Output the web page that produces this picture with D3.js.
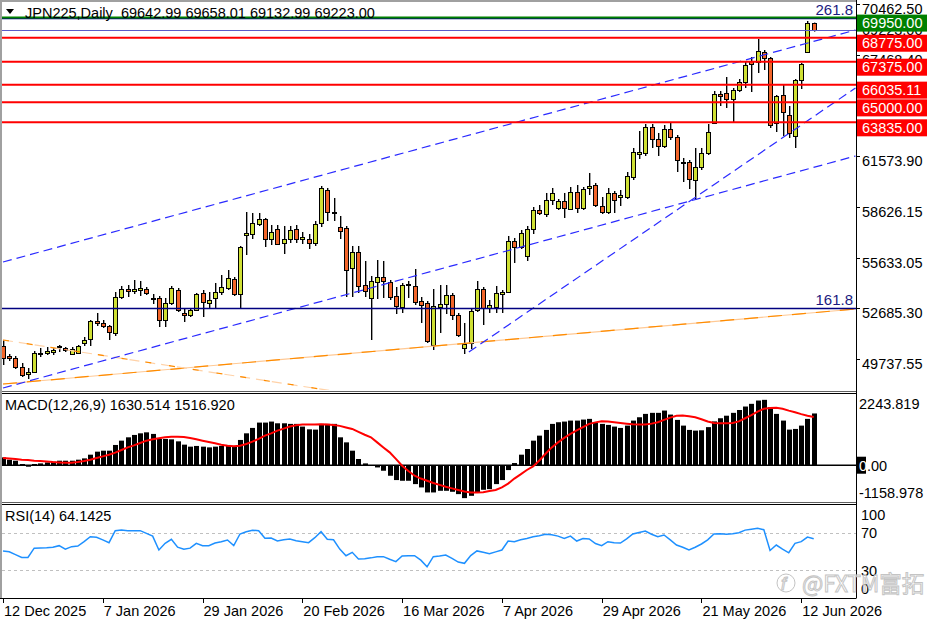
<!DOCTYPE html>
<html>
<head>
<meta charset="utf-8">
<script src="https://cdn.jsdelivr.net/npm/d3@7"></script>
<style>
body{margin:0;background:#fff}
svg{display:block;font-family:"Liberation Sans",Arial,sans-serif}
text{white-space:pre}
</style>
</head>
<body>
<div id="chart"></div>
<script>
// JPN225 daily candles, bar 0 = 12 Dec 2025
const open=[50772,50188,50071,49545,49136,49253,50334,50363,50421,50772,
50655,50304,50363,50947,51180,52232,52115,51940,51531,53633,
54100,53984,54042,54100,53575,53575,52290,53283,54042,52699,
52553,52874,53867,53283,53575,53925,54159,54684,53808,57254,
57312,57896,58188,57020,57604,56787,57020,57604,57020,57020,
56787,57955,59882,58597,57721,57663,55327,56261,54334,53575,
54509,54801,54509,53692,53049,54392,54276,53400,53283,50830,
53049,53224,53750,52582,50655,50947,52874,54100,52991,53049,
53808,53925,56904,56553,56028,57604,58714,58480,59298,58831,
59240,58772,59765,58831,59999,60174,58948,58597,59707,59473,
59473,60641,61984,62043,63561,62860,62452,63444,62977,61546,
61517,60466,61225,62043,63795,65488,65547,65196,65722,66189,
67416,67357,67941,67591,63795,65430,64262,63036,66306,67941,
69642.99];
const high=[51122,50304,50188,49779,49487,50480,50655,50713,50655,50830,
50713,50713,50830,51297,52290,52699,52290,51998,53925,54276,
54334,54626,54568,54217,53808,53692,53575,54276,54159,52932,
52991,53867,54042,53925,54451,54918,55210,54801,56612,58597,
58539,58539,58247,57838,57838,57780,57780,57838,57429,57312,
58072,60116,59999,59415,58364,57780,56612,56612,55736,54860,
55794,55736,54626,54217,54451,54568,55268,53633,53400,54100,
54334,54334,53867,52699,52115,52991,54568,54217,53458,54276,
54042,57196,57079,57546,57780,58889,59006,59707,59999,59356,
59707,60057,60174,60057,60875,60291,59473,59999,59824,59882,
60933,62335,63328,63736,63736,63211,63678,63795,63094,61751,
61634,62335,62335,63736,65664,65664,66481,65839,66364,67357,
67649,68700,68058,67649,65430,66072,64788,66364,67299,69752,
69658.01];
const low=[49662,49896,49428,48961,48844,49195,50129,50246,50246,50421,
50421,50246,50304,50772,50772,51940,51823,51122,51356,53516,
53633,53808,53692,53750,53224,51881,51881,53166,52757,52173,
52465,52816,52465,52991,52991,53750,54042,53692,52991,56086,
57020,57780,56553,56670,56670,56144,56787,56787,56728,56436,
56612,57721,58072,58072,57020,53633,53633,53867,53633,51122,
53516,53575,53458,52640,52699,53575,53166,52115,50947,50538,
51531,52640,52290,51297,50304,50596,52757,51998,52699,52699,
52699,53867,55619,56436,55736,57312,58422,58305,59006,58714,
58247,58714,58539,58714,59590,58889,58480,58480,58539,58948,
59356,60466,61692,61868,62335,61868,62335,62802,60933,60349,
59940,59298,61050,61926,63736,64788,64671,63853,65605,65839,
65605,66715,66890,63503,63269,63036,62919,62335,65780,67883,
69132.99];
const close=[50071,50071,49545,49078,49253,50363,50363,50480,50538,50742,
50538,50596,50772,51122,52232,52115,51940,51589,53633,54100,
53984,54100,54159,53867,53546,52290,53283,54159,52874,52553,
52874,53808,53341,53458,53925,54217,54743,53808,56553,57371,
57955,58188,57020,57429,56728,57020,57546,57020,57137,56787,
57896,59999,58597,58568,57488,55210,56261,54276,53984,54568,
54801,54568,53633,53108,54334,54363,53341,53166,51064,53108,
53224,53750,52582,51414,50888,52816,54100,52991,53166,53867,
53925,56904,56553,57371,57604,58714,58539,59298,59707,59240,
58831,59765,58831,59940,60116,59006,58597,59707,59298,59590,
60700,62101,62101,63561,62860,62452,63444,62977,61634,61459,
60524,61225,62043,63269,65488,65372,65196,65722,66189,67182,
67240,68000,67591,63678,65372,64437,63211,66306,67240,69635,
69223.00];

// MACD(12,26,9): main (histogram) and signal
const macdHist=[246,174,142,38,-47,38,57,88,110,142,
142,142,174,215,332,427,458,458,638,774,
879,954,1005,1036,986,828,828,815,752,648,
585,607,585,562,585,607,638,594,796,1005,
1175,1343,1343,1375,1321,1321,1302,1302,1217,1131,
1122,1302,1302,1302,879,720,458,196,57,-16,
-70,-174,-332,-468,-490,-490,-595,-700,-858,-858,
-806,-806,-837,-911,-1037,-964,-858,-774,-753,-595,
-468,-153,69,332,511,774,932,1112,1302,1354,
1375,1406,1406,1438,1460,1333,1302,1270,1217,1175,
1248,1406,1511,1617,1650,1650,1722,1596,1428,1248,
1112,1090,1100,1200,1380,1480,1560,1650,1740,1849,
1934,2038,2060,1827,1617,1406,1122,1143,1248,1460,
1630.514];
const macdSignal=[228,215,196,174,164,142,133,120,101,88,
79,79,101,133,174,228,278,332,395,480,
562,626,701,774,815,847,879,900,900,890,
860,815,774,733,690,648,616,594,616,670,
743,828,932,1005,1090,1153,1217,1258,1280,1280,
1285,1290,1285,1270,1240,1190,1143,1050,960,879,
720,560,405,200,-16,-180,-332,-420,-490,-560,
-620,-680,-730,-780,-830,-858,-860,-850,-815,-780,
-700,-580,-420,-290,-150,-40,150,360,562,720,
860,985,1100,1200,1302,1350,1384,1375,1355,1333,
1310,1290,1280,1280,1310,1354,1430,1500,1560,1564,
1540,1511,1450,1380,1333,1320,1320,1333,1380,1480,
1580,1690,1776,1800,1807,1780,1720,1670,1610,1560,
1516.920];

// RSI(14)
const rsi=[51,50,47,44,44,54,54.2,54.5,55,56.7,
53,55.6,56.3,61,66.4,65.7,63,59.9,72.9,73.6,
72.9,72.9,72.9,70,67,52,59.2,63.6,55,52.8,
54,59.2,56.7,56.7,59.5,61,62.8,56.7,69.3,71.8,
73.4,72.9,64.6,65,61.7,63,63.9,62,61,59.9,
65.3,71.8,63.6,63,53,45.8,49.5,42.3,42.5,43.5,
44.8,44.8,42,39.4,45.5,45.8,45.8,41,33.8,44.8,
45.5,46.6,43,39,37.6,46,51,49.5,48,50,
52,61.7,61,63,64.5,66.4,67.5,69,68.5,67,
64.6,67,61.7,64.5,64,59,56.7,61,59.8,59.5,
64,69.3,71,72.5,69,66.4,68.2,63,57.4,55,
52,55,58.5,63,69.3,69.5,69,69.5,70.7,73.5,
74.5,75.5,74,51.5,57.4,53,49,59.2,61,66,
64.1425];

const dateTicks=[0,16,32,48,64,80,96,112,128];
const dateLabels=["12 Dec 2025","7 Jan 2026","29 Jan 2026","20 Feb 2026","16 Mar 2026","7 Apr 2026","29 Apr 2026","21 May 2026","12 Jun 2026"];
const priceTicks=[70462.50,67468.40,64521.65,61573.90,58626.15,55633.05,52685.30,49737.55];
const levelPrices=[69950,68775,67375,66035.11,65000,63835];
const levelColors=["#008000","#ff0000","#ff0000","#ff0000","#ff0000","#ff0000"];
const fibPrices=[52962,69950];
const fibLabels=["161.8","261.8"];
const bidPrice=69223.00;

// trend lines: [barIndex, price] pairs
const channelUpper=[[0,55677],[136.7,69226]];
const channelLower=[[0,48319],[136.7,61868]];
const steepLine=[[74.7,50421],[136.7,65839]];
const orangeUp=[[0,48552],[136.7,52932]];
const orangeDown=[[0,51122],[60,47742]];

const W=936,H=624,L=2,R=856;
const P={top:3,bottom:390},M={top:394,bottom:502},S={top:505,bottom:598};

const svg=d3.select("#chart").append("svg").attr("width",W).attr("height",H);
const defs=svg.append("defs");
[["clipMain",P],["clipMacd",M],["clipRsi",S]].forEach(([id,p])=>{
  defs.append("clipPath").attr("id",id).append("rect")
    .attr("x",L).attr("y",p.top).attr("width",R-L).attr("height",p.bottom-p.top);
});

const x=d3.scaleLinear().domain([0,130]).range([3,813.7]);
const y=d3.scaleLinear().domain([48202,70803]).range([P.bottom,P.top]);
const ym=d3.scaleLinear().domain([-1158.978,2243.819]).range([M.bottom,M.top]);
const yr=d3.scaleLinear().domain([0,100]).range([598.1,505.6]);

const bars=d3.range(open.length).map(i=>({i,o:open[i],h:high[i],l:low[i],c:close[i]}));
const px=i=>Math.round(x(i))+0.5;

// ---- main panel
const gMain=svg.append("g").attr("clip-path","url(#clipMain)");
gMain.append("g").selectAll("line").data(bars).join("line")
  .attr("x1",d=>px(d.i)+1).attr("x2",d=>px(d.i)+1)
  .attr("y1",d=>y(d.h)).attr("y2",d=>y(d.l))
  .attr("stroke","#a0a0a0").attr("stroke-width",1);
gMain.append("g").selectAll("line").data(bars).join("line")
  .attr("x1",d=>px(d.i)).attr("x2",d=>px(d.i))
  .attr("y1",d=>y(d.h)).attr("y2",d=>y(d.l))
  .attr("stroke","#000").attr("stroke-width",1);
gMain.append("g").selectAll("rect").data(bars).join("rect")
  .attr("x",d=>px(d.i)-2).attr("width",4)
  .attr("y",d=>Math.round(y(Math.max(d.o,d.c)))+0.5)
  .attr("height",d=>Math.max(1,Math.round(Math.abs(y(d.o)-y(d.c)))))
  .attr("fill",d=>d.c>=d.o?"#cfe034":"#f2652a")
  .attr("stroke","#000").attr("stroke-width",1);

const line2=(pts,color,dash,w)=>{
  gMain.append("line")
    .attr("x1",x(pts[0][0])).attr("y1",y(pts[0][1]))
    .attr("x2",x(pts[1][0])).attr("y2",y(pts[1][1]))
    .attr("stroke",color).attr("stroke-width",w||1)
    .attr("stroke-dasharray",dash||null);
};
line2(orangeUp,"#ffc995",null,1.2);
line2(orangeUp,"#ff8c00","14,10",1.2);
line2(orangeDown,"#ffd2a8","10,6",1.2);
line2(orangeDown,"#ff8c00","6,18",1.2);
line2(channelUpper,"#2a2aff","9,5",1.2);
line2(channelLower,"#2a2aff","9,5",1.2);
line2(steepLine,"#2a2aff","9,5",1.2);

// fib levels
fibPrices.forEach((p,k)=>{
  gMain.append("line").attr("x1",L).attr("x2",R)
    .attr("y1",Math.round(y(p))+0.5).attr("y2",Math.round(y(p))+0.5)
    .attr("stroke","#000080").attr("stroke-width",1.5);
  svg.append("text").attr("x",853).attr("y",y(p)-8.5)
    .attr("text-anchor","end").attr("dominant-baseline","central")
    .attr("font-size",15).attr("fill","#1a1a80").text(fibLabels[k]);
});
// bid line
gMain.append("line").attr("x1",L).attr("x2",R)
  .attr("y1",Math.round(y(bidPrice))+0.5).attr("y2",Math.round(y(bidPrice))+0.5)
  .attr("stroke","#5a5ac8").attr("stroke-width",1);
// horizontal levels
levelPrices.forEach((p,k)=>{
  gMain.append("line").attr("x1",L).attr("x2",R)
    .attr("y1",y(p)).attr("y2",y(p))
    .attr("stroke",levelColors[k]).attr("stroke-width",2);
});

// ---- MACD panel
const gMacd=svg.append("g").attr("clip-path","url(#clipMacd)");
gMacd.append("g").selectAll("rect").data(macdHist).join("rect")
  .attr("x",(d,i)=>px(i)-2.5).attr("width",5)
  .attr("y",d=>Math.min(ym(0),ym(d))).attr("height",d=>Math.abs(ym(d)-ym(0)))
  .attr("fill","#000");
gMacd.append("line").attr("x1",L).attr("x2",R).attr("y1",ym(0)).attr("y2",ym(0))
  .attr("stroke","#000").attr("stroke-width",1.5);
gMacd.append("path").datum(macdSignal)
  .attr("d",d3.line().x((d,i)=>x(i)).y(d=>ym(d)))
  .attr("fill","none").attr("stroke","#ff0000").attr("stroke-width",2);

// ---- RSI panel
const gRsi=svg.append("g").attr("clip-path","url(#clipRsi)");
[70,30].forEach(v=>{
  gRsi.append("line").attr("x1",L).attr("x2",R)
    .attr("y1",Math.round(yr(v))+0.5).attr("y2",Math.round(yr(v))+0.5)
    .attr("stroke","#c0c0c0").attr("stroke-dasharray","3,3");
});
gRsi.append("path").datum(rsi)
  .attr("d",d3.line().x((d,i)=>x(i)).y(d=>yr(d)))
  .attr("fill","none").attr("stroke","#1e90ff").attr("stroke-width",1.5);

// ---- frames
const hl=(yy,c,w)=>svg.append("line").attr("x1",0).attr("x2",R).attr("y1",yy).attr("y2",yy).attr("stroke",c).attr("stroke-width",w||1);
hl(1,"#a0a0a0",2);
hl(391.5,"#606060");hl(393.5,"#000");
hl(502.5,"#606060");hl(504.5,"#000");
hl(598.5,"#000");
svg.append("line").attr("x1",1).attr("x2",1).attr("y1",0).attr("y2",598).attr("stroke","#a0a0a0").attr("stroke-width",2);
svg.append("line").attr("x1",R+0.5).attr("x2",R+0.5).attr("y1",0).attr("y2",598.5).attr("stroke","#000");

// ---- right axis labels
const fs=14.5;
priceTicks.forEach(p=>{
  svg.append("line").attr("x1",R).attr("x2",R+4).attr("y1",Math.round(y(p))-4.5).attr("y2",Math.round(y(p))-4.5).attr("stroke","#000");
  svg.append("text").attr("x",862).attr("y",y(p)).attr("dominant-baseline","central")
    .attr("font-size",fs).attr("fill","#000").text(d3.format(".2f")(p));
});
svg.append("text").attr("x",862).attr("y",y(bidPrice)).attr("dominant-baseline","central")
  .attr("font-size",fs).attr("fill","#000").text(d3.format(".2f")(bidPrice));
levelPrices.forEach((p,k)=>{
  svg.append("rect").attr("x",857).attr("y",y(p)-3).attr("width",70).attr("height",17).attr("fill",levelColors[k]);
  svg.append("text").attr("x",862).attr("y",y(p)+5.5).attr("dominant-baseline","central")
    .attr("font-size",fs).attr("fill","#fff").text(d3.format(".2f")(p));
});

// MACD axis
svg.append("text").attr("x",859).attr("y",404).attr("dominant-baseline","central").attr("font-size",fs).text("2243.819");
svg.append("rect").attr("x",857).attr("y",ym(0)-8.5).attr("width",9).attr("height",17).attr("fill","#000");
svg.append("text").attr("x",859).attr("y",ym(0)+1).attr("dominant-baseline","central").attr("font-size",fs).attr("fill","#fff").text("0");
svg.append("text").attr("x",867).attr("y",ym(0)+1).attr("dominant-baseline","central").attr("font-size",fs).text(".00");
svg.append("text").attr("x",859).attr("y",493).attr("dominant-baseline","central").attr("font-size",fs).text("-1158.978");

// RSI axis
[[100,515],[70,533],[30,571],[0,589]].forEach(([v,yy])=>{
  svg.append("text").attr("x",861).attr("y",yy).attr("dominant-baseline","central").attr("font-size",fs).text(v);
});

// date axis
dateTicks.forEach((t,k)=>{
  svg.append("line").attr("x1",px(t)).attr("x2",px(t)).attr("y1",598).attr("y2",603).attr("stroke","#000");
  svg.append("text").attr("x",x(t)+1).attr("y",611).attr("dominant-baseline","central")
    .attr("font-size",fs).text(dateLabels[k]);
});

// titles
svg.append("path").attr("d","M6,9 L14,9 L10,14 Z").attr("fill","#000");
svg.append("text").attr("x",25).attr("y",13).attr("dominant-baseline","central").attr("font-size",fs)
  .text("JPN225,Daily  69642.99 69658.01 69132.99 69223.00");
svg.append("text").attr("x",5).attr("y",405).attr("dominant-baseline","central").attr("font-size",fs)
  .text("MACD(12,26,9) 1630.514 1516.920");
svg.append("text").attr("x",5).attr("y",516).attr("dominant-baseline","central").attr("font-size",fs)
  .text("RSI(14) 64.1425");

// watermark
const wm=svg.append("g").attr("fill","rgba(255,255,255,0.55)").attr("stroke","#c4c4c4").attr("stroke-width",1);
wm.append("circle").attr("cx",786).attr("cy",583).attr("r",9).attr("fill","none");
wm.append("text").attr("x",781).attr("y",590).attr("font-size",18).attr("font-style","italic").attr("fill","none").text("f");
wm.append("text").attr("x",802).attr("y",592).attr("font-size",22.5)
  .attr("font-family","'Noto Sans CJK SC','Liberation Sans',sans-serif").text("@FXTM富拓");
</script>
</body>
</html>
